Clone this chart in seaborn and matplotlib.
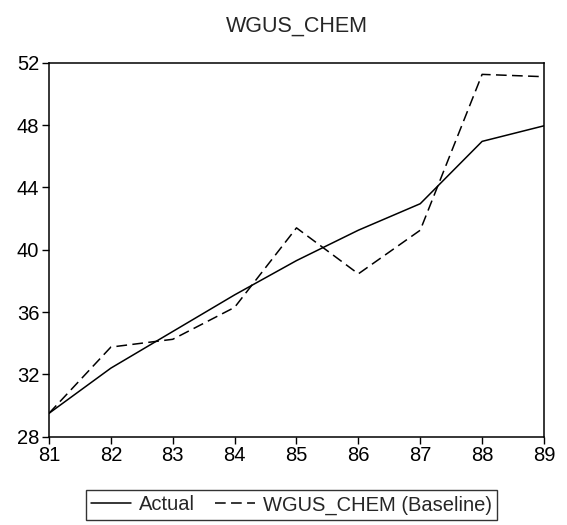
import matplotlib
matplotlib.use("Agg")
import matplotlib.pyplot as plt
import seaborn as sns
import pandas as pd

years = [81, 82, 83, 84, 85, 86, 87, 88, 89]
actual = [29.5, 32.4, 34.75, 37.1, 39.3, 41.25, 42.95, 46.95, 47.95]
baseline = [29.5, 33.75, 34.25, 36.3, 41.4, 38.45, 41.25, 51.25, 51.1]
series_names = ["Actual", "WGUS_CHEM (Baseline)"]
yticks = [28, 32, 36, 40, 44, 48, 52]

sns.set_theme(style="ticks")
plt.rcParams["font.family"] = ["Liberation Sans", "DejaVu Sans"]

df = pd.DataFrame({
    "year": years * 2,
    "value": actual + baseline,
    "series": [series_names[0]] * len(years) + [series_names[1]] * len(years),
})

fig = plt.figure(figsize=(5.67, 5.25), dpi=100)
ax = fig.add_axes([0.0864, 0.1682, 0.8730, 0.7124])

sns.lineplot(data=df, x="year", y="value", hue="series", style="series",
             palette=["black", "black"],
             dashes={series_names[0]: "", series_names[1]: (7, 3.5)},
             linewidth=1.1, ax=ax, legend=False)

ax.set_xlim(81, 89)
ax.set_ylim(28, 52)
ax.set_xticks(years)
ax.set_xticklabels([str(y) for y in years])
ax.set_yticks(yticks)
ax.set_yticklabels([str(t) for t in yticks])
ax.set_xlabel("")
ax.set_ylabel("")
ax.tick_params(axis="both", direction="out", length=5, width=1, labelsize=14.5, colors="black", pad=2)
ax.tick_params(top=False, right=False)
for s in ax.spines.values():
    s.set_visible(True)
    s.set_color("black")
    s.set_linewidth(1.1)
ax.set_title("WGUS_CHEM", fontsize=15.5, pad=22)

from matplotlib.lines import Line2D
handles = [Line2D([], [], color="black", lw=1.1),
           Line2D([], [], color="black", lw=1.1, dashes=(7, 3.5))]
leg = fig.legend(handles, series_names, loc="center", bbox_to_anchor=(0.514, 0.038),
                 ncol=2, fontsize=14.5, frameon=True, fancybox=False,
                 handlelength=2.0, handletextpad=0.4, columnspacing=1.0,
                 borderpad=0.25, borderaxespad=0)
leg.get_frame().set_edgecolor("black")
leg.get_frame().set_linewidth(1.0)

fig.savefig("out.png", dpi=100, facecolor="white")
